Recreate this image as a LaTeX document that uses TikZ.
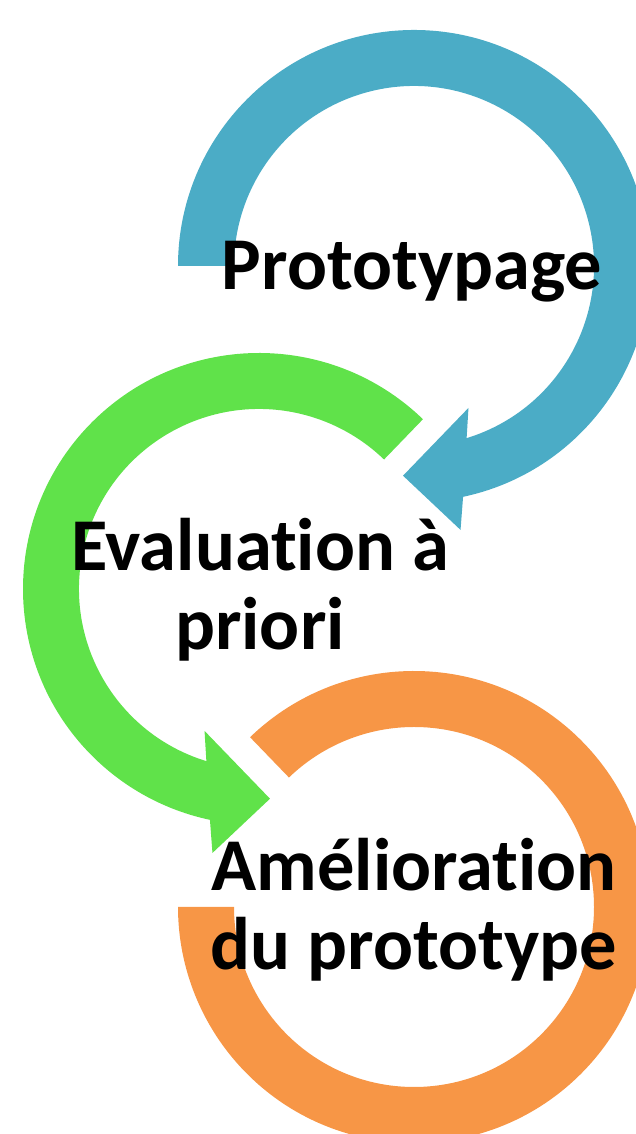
\documentclass[tikz,border=0pt]{standalone}
\usepackage{fontspec}
\setmainfont[Ligatures=NoCommon]{Carlito}
\definecolor{cblue}{RGB}{75,172,198}
\definecolor{cgreen}{RGB}{96,226,74}
\definecolor{corange}{RGB}{247,150,70}
\begin{document}
\begin{tikzpicture}[x=1pt,y=1pt,
  lbl/.style={font=\fontsize{74.5}{79}\selectfont\bfseries, align=center, inner sep=0pt, anchor=base, text=black}]
\useasboundingbox (0,0) rectangle (636,1134);
\clip (0,0) rectangle (636,1134);
% blue circular arrow
\begin{scope}[shift={(414,868)}]
\fill[cblue] (180:236) arc[start angle=180, end angle=-78, radius=236]
  -- (-80:268) -- (-93:210) -- (-69:152) -- (-73:180)
  arc[start angle=-73, end angle=180, radius=180] -- cycle;
\end{scope}
% green circular arrow
\begin{scope}[shift={(259,545)}]
\fill[cgreen] (46:236) arc[start angle=46, end angle=258, radius=236]
  -- (260:268) -- (273:210) -- (249:152) -- (253:180)
  arc[start angle=253, end angle=46, radius=180] -- cycle;
\end{scope}
% orange ring
\begin{scope}[shift={(414,227)}]
\fill[corange] (134:236) arc[start angle=134, end angle=-180, radius=236]
  -- (180:180) arc[start angle=-180, end angle=134, radius=180] -- cycle;
\end{scope}
\node[lbl] (proto) at (412,844) {Prototypage};
\node[lbl] (eval) at (260,484) {Evaluation à\\priori};
\node[lbl] (amel) at (414,164) {Amélioration\\du prototype};
\end{tikzpicture}
\end{document}
